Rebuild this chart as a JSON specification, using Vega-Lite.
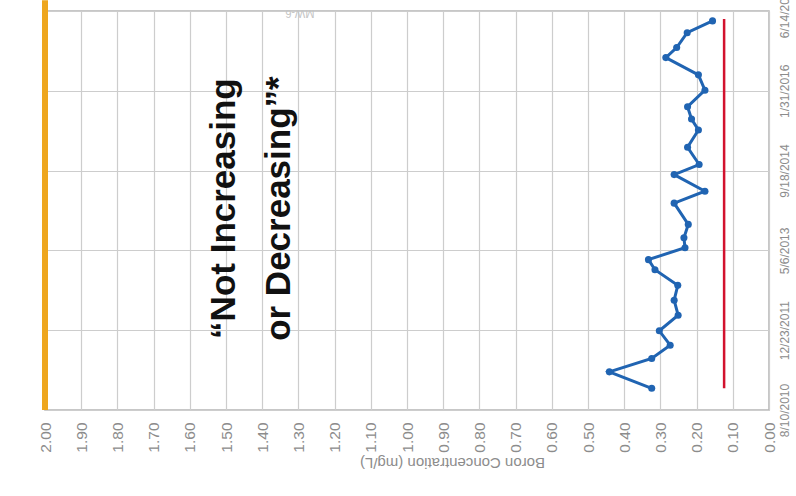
{
  "$schema": "https://vega.github.io/schema/vega-lite/v6.json",
  "width": 724,
  "height": 399,
  "autosize": {"type": "none"},
  "padding": {"left": 45, "top": 11, "right": 27, "bottom": 86},
  "background": "white",
  "config": {"view": {"stroke": "#b5b5b5", "strokeWidth": 1.5}},
  "datasets": {
    "boron": [
      {"date": "2010-12-24T00:00:00", "conc": 0.324},
      {"date": "2011-04-06T00:00:00", "conc": 0.441},
      {"date": "2011-06-29T00:00:00", "conc": 0.324},
      {"date": "2011-09-20T00:00:00", "conc": 0.273},
      {"date": "2011-12-19T00:00:00", "conc": 0.303},
      {"date": "2012-03-26T00:00:00", "conc": 0.251},
      {"date": "2012-06-28T00:00:00", "conc": 0.262},
      {"date": "2012-09-29T00:00:00", "conc": 0.252},
      {"date": "2013-01-05T00:00:00", "conc": 0.315},
      {"date": "2013-03-09T00:00:00", "conc": 0.333},
      {"date": "2013-05-23T00:00:00", "conc": 0.232},
      {"date": "2013-07-24T00:00:00", "conc": 0.235},
      {"date": "2013-10-16T00:00:00", "conc": 0.223},
      {"date": "2014-02-26T00:00:00", "conc": 0.262},
      {"date": "2014-05-12T00:00:00", "conc": 0.177},
      {"date": "2014-08-24T00:00:00", "conc": 0.262},
      {"date": "2014-10-26T00:00:00", "conc": 0.193},
      {"date": "2015-02-11T00:00:00", "conc": 0.225},
      {"date": "2015-05-30T00:00:00", "conc": 0.195},
      {"date": "2015-08-07T00:00:00", "conc": 0.214},
      {"date": "2015-10-23T00:00:00", "conc": 0.225},
      {"date": "2016-02-04T00:00:00", "conc": 0.177},
      {"date": "2016-05-10T00:00:00", "conc": 0.195},
      {"date": "2016-08-26T00:00:00", "conc": 0.285},
      {"date": "2016-10-28T00:00:00", "conc": 0.255},
      {"date": "2017-01-29T00:00:00", "conc": 0.226},
      {"date": "2017-04-13T00:00:00", "conc": 0.156}
    ],
    "edge": [
      {"conc": 2.0, "date": "2010-08-10T00:00:00", "date2": "2017-08-20T00:00:00"}
    ],
    "limit": [
      {"conc": 0.124, "date": "2010-12-25T00:00:00", "date2": "2017-04-25T00:00:00"}
    ],
    "note": [
      {"conc": 1.475, "date": "2014-01-23T00:00:00", "label": "“Not Increasing|or Decreasing”*"}
    ],
    "well": [
      {"conc": 1.296, "date": "2017-06-01T00:00:00", "label": "MW-6"}
    ]
  },
  "encoding": {
    "x": {
      "field": "conc",
      "type": "quantitative",
      "scale": {"domain": [0, 2], "reverse": true, "nice": false, "zero": false},
      "axis": {
        "values": [0, 0.1, 0.2, 0.3, 0.4, 0.5, 0.6, 0.7, 0.8, 0.9, 1.0, 1.1, 1.2, 1.3, 1.4, 1.5, 1.6, 1.7, 1.8, 1.9, 2.0],
        "format": ".2f",
        "labelAngle": -90,
        "labelAlign": "right",
        "labelBaseline": "middle",
        "labelColor": "#8c8c8c",
        "labelFont": "Liberation Sans",
        "labelFontSize": 15.5,
        "labelPadding": 12,
        "labelOverlap": false,
        "labelFlush": false,
        "ticks": false,
        "domain": false,
        "grid": true,
        "gridColor": "#cdcdcd",
        "gridWidth": 1.2,
        "title": "Boron Concentration (mg/L)",
        "titleAngle": 180,
        "titleFont": "Liberation Sans",
        "titleFontSize": 15,
        "titleFontWeight": "normal",
        "titleColor": "#8c8c8c",
        "titleAlign": "center",
        "titleBaseline": "middle",
        "titleX": 407,
        "titleY": 52
      }
    },
    "y": {
      "field": "date",
      "type": "temporal",
      "scale": {"domain": [{"year": 2010, "month": 8, "date": 10}, {"year": 2017, "month": 6, "date": 14}], "nice": false},
      "axis": {
        "orient": "right",
        "values": [
          {"year": 2010, "month": 8, "date": 10},
          {"year": 2011, "month": 12, "date": 23},
          {"year": 2013, "month": 5, "date": 6},
          {"year": 2014, "month": 9, "date": 18},
          {"year": 2016, "month": 1, "date": 31},
          {"year": 2017, "month": 6, "date": 14}
        ],
        "format": "%-m/%-d/%Y",
        "labelAngle": -90,
        "labelAlign": "center",
        "labelBaseline": "top",
        "labelColor": "#8c8c8c",
        "labelFont": "Liberation Sans",
        "labelFontSize": 12,
        "labelPadding": 10,
        "labelOverlap": false,
        "labelFlush": false,
        "ticks": false,
        "domain": false,
        "grid": true,
        "gridColor": "#cdcdcd",
        "gridWidth": 1.2,
        "title": null
      }
    }
  },
  "layer": [
    {
      "data": {"name": "edge"},
      "mark": {"type": "rule", "color": "#eea61e", "strokeWidth": 6, "clip": false},
      "encoding": {"y2": {"field": "date2"}}
    },
    {
      "data": {"name": "limit"},
      "mark": {"type": "rule", "color": "#d2122e", "strokeWidth": 2.5},
      "encoding": {"y2": {"field": "date2"}}
    },
    {
      "data": {"name": "boron"},
      "mark": {"type": "line", "color": "#2064b2", "strokeWidth": 3, "point": {"filled": true, "size": 50, "color": "#2064b2"}},
      "encoding": {"order": {"field": "date", "type": "temporal"}}
    },
    {
      "data": {"name": "note"},
      "mark": {"type": "text", "angle": -90, "align": "center", "baseline": "alphabetic", "lineBreak": "|", "lineHeight": 55, "font": "Liberation Sans", "fontSize": 35, "fontWeight": "bold", "color": "#111111"},
      "encoding": {"text": {"field": "label"}}
    },
    {
      "data": {"name": "well"},
      "mark": {"type": "text", "angle": 180, "align": "center", "baseline": "middle", "font": "Liberation Sans", "fontSize": 11, "color": "#c4c4c4", "clip": false},
      "encoding": {"text": {"field": "label"}}
    }
  ]
}
